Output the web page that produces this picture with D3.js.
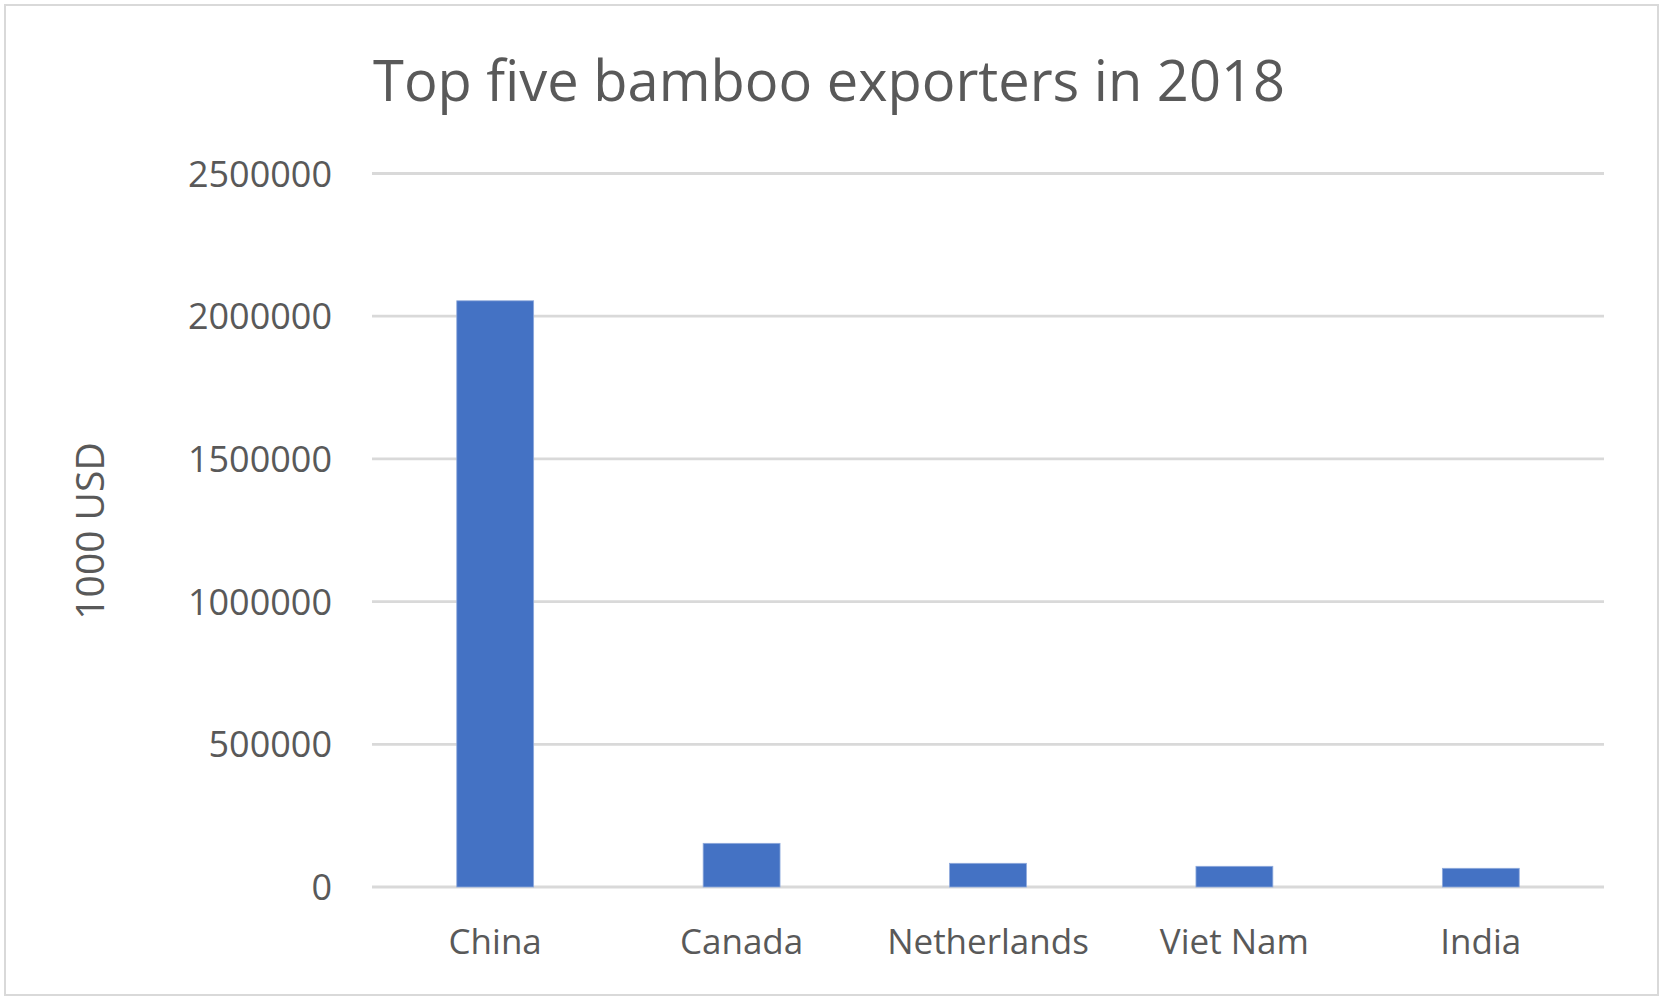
<!DOCTYPE html>
<html lang="en">
<head>
  <meta charset="UTF-8" />
  <title>Top five bamboo exporters in 2018</title>
  <script src="https://d3js.org/d3.v7.min.js"></script>
  <style>
    body { margin: 0; background: #fff; font-family: "Open Sans", sans-serif; }
    svg { display: block; }
    .label { fill: #595959; }
  </style>
</head>
<body>
  <svg width="1663" height="1003"></svg>

  <script>
    const countries = ["China", "Canada", "Netherlands", "Viet Nam", "India"];
    const exports1000usd = [2054000, 153000, 83000, 72500, 65500];
    const yTicks = [0, 500000, 1000000, 1500000, 2000000, 2500000];

    const width = 1663;
    const height = 1003;
    const svg = d3.select("svg");

    // marco del grafico
    svg.append("rect")
      .attr("x", 5).attr("y", 5)
      .attr("width", width - 10).attr("height", height - 13)
      .attr("fill", "#fff")
      .attr("stroke", "#d9d9d9")
      .attr("stroke-width", 2);

    const x = d3.scaleBand()
      .domain(countries)
      .range([372, 1604])
      .paddingInner(0.688)
      .paddingOuter(0.344);

    const y = d3.scaleLinear()
      .domain([0, 2500000])
      .range([887, 173.5]);

    // lineas de la cuadricula
    svg.append("g")
      .selectAll("line")
      .data(yTicks)
      .join("line")
      .attr("x1", 372)
      .attr("x2", 1604)
      .attr("y1", d => y(d))
      .attr("y2", d => y(d))
      .attr("stroke", "#d9d9d9")
      .attr("stroke-width", 2.8);

    // barras
    svg.append("g")
      .selectAll("rect")
      .data(countries)
      .join("rect")
      .attr("x", d => x(d))
      .attr("width", x.bandwidth())
      .attr("y", (d, i) => y(exports1000usd[i]))
      .attr("height", (d, i) => y(0) - y(exports1000usd[i]))
      .attr("fill", "#4472c4")
      .attr("stroke", "#8faadc")
      .attr("stroke-width", 0.8);

    // etiquetas del eje y
    svg.append("g")
      .selectAll("text")
      .data(yTicks)
      .join("text")
      .attr("class", "label")
      .attr("x", 332)
      .attr("y", d => y(d) + 13)
      .attr("text-anchor", "end")
      .attr("font-size", 36)
      .text(d => d3.format("d")(d));

    // etiquetas del eje x
    svg.append("g")
      .selectAll("text")
      .data(countries)
      .join("text")
      .attr("class", "label")
      .attr("x", d => x(d) + x.bandwidth() / 2)
      .attr("y", 954)
      .attr("text-anchor", "middle")
      .attr("font-size", 35)
      .text(d => d);

    svg.append("text")
      .attr("class", "label")
      .attr("transform", "translate(104,531) rotate(-90)")
      .attr("text-anchor", "middle")
      .attr("font-size", 39)
      .text("1000 USD");

    svg.append("text")
      .attr("class", "label")
      .attr("x", 829)
      .attr("y", 101)
      .attr("text-anchor", "middle")
      .attr("font-size", 56)
      .text("Top five bamboo exporters in 2018");
  </script>
</body>
</html>
